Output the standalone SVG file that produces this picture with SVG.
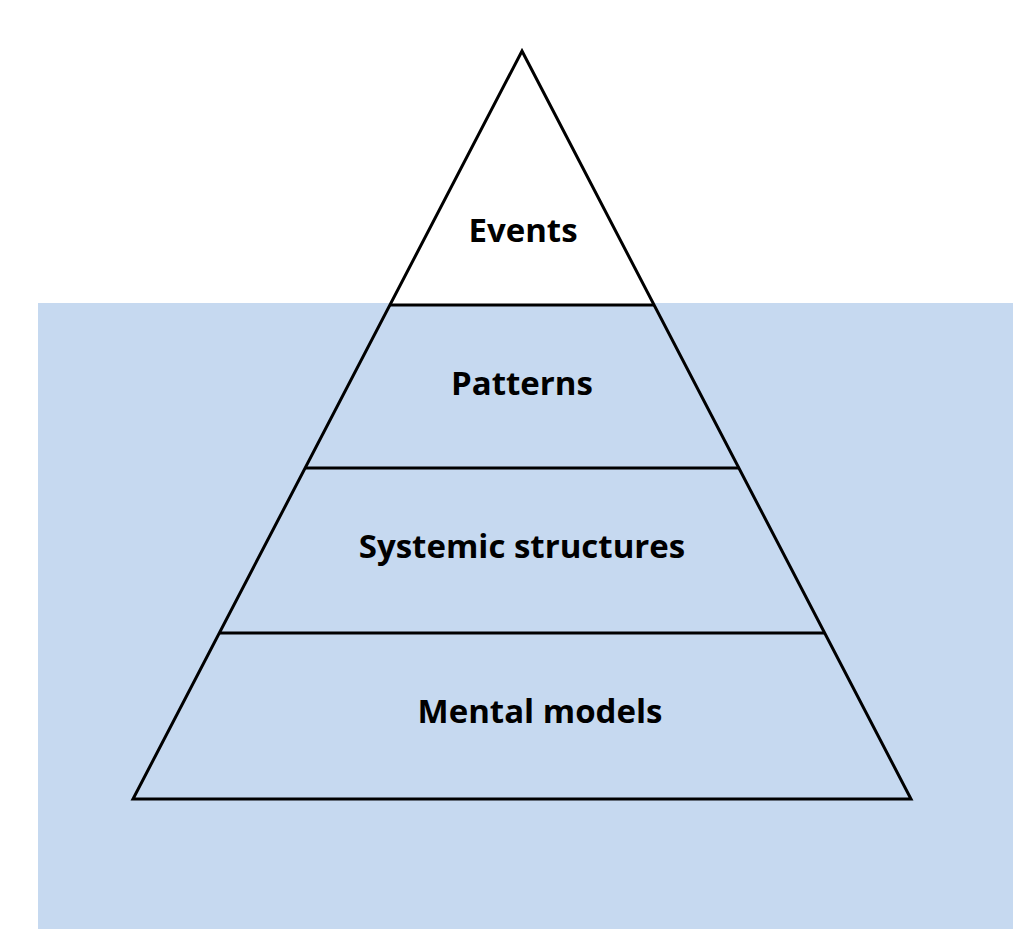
<svg xmlns="http://www.w3.org/2000/svg" width="1024" height="945" viewBox="0 0 1024 945">
<style>
.t{font-family:"Open Sans","Liberation Sans",sans-serif;font-weight:bold;font-size:33px;fill:#000;text-anchor:middle}
.l{stroke:#000;stroke-width:3;fill:none}
</style>
<rect x="0" y="0" width="1024" height="945" fill="#fff"/>
<rect id="water" x="38" y="303" width="975" height="626" fill="#c6d9f0"/>
<g id="events"><path d="M522,51 L654,305 L390,305 Z" fill="#fff"/><text class="t" x="523" y="242">Events</text></g>
<g id="pyramid"><path class="l" d="M522,51 L911,799 L133,799 Z" stroke-linejoin="miter"/></g>
<g id="connectors">
<line class="l" x1="390" y1="305" x2="654" y2="305"/>
<line class="l" x1="305" y1="468" x2="739" y2="468"/>
<line class="l" x1="219" y1="633" x2="825" y2="633"/>
</g>
<g id="patterns"><text class="t" x="522" y="395">Patterns</text></g>
<g id="systemic"><text class="t" x="522" y="558">Systemic structures</text></g>
<g id="mental"><text class="t" x="540" y="723">Mental models</text></g>
</svg>
